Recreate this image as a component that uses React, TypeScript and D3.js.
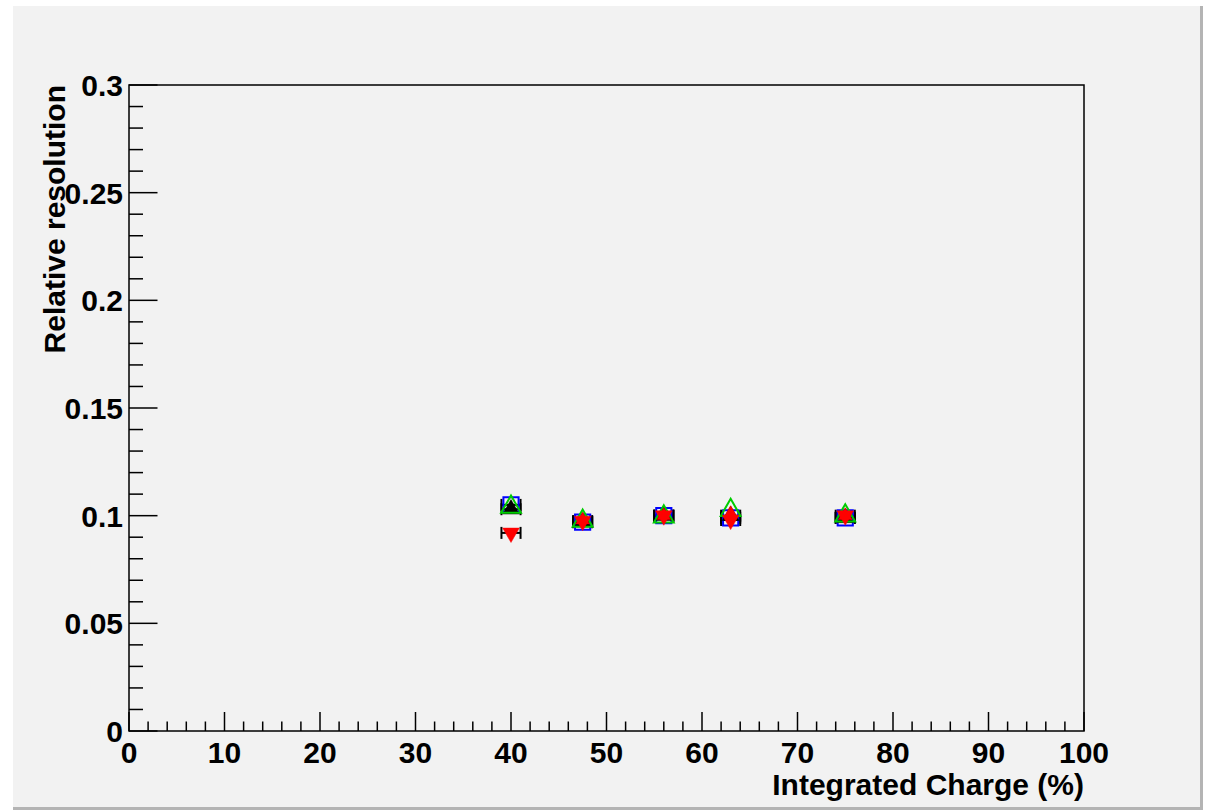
import React, { useEffect, useRef } from 'react';
import * as d3 from 'd3';

// integrated charge points (%)
const charge = [40, 47.5, 56, 63, 75];
const chargeErr = [1, 1, 1, 1, 1];

// relative resolution, one array per series
const blackUp = [0.103, 0.097, 0.1, 0.1, 0.099];
const blueSquare = [0.105, 0.097, 0.1, 0.099, 0.099];
const greenUp = [0.104, 0.0975, 0.0995, 0.1025, 0.1];
const redDown = [0.092, 0.0975, 0.1, 0.098, 0.1];
const redUp = [NaN, 0.098, 0.1, 0.101, 0.1];

const xTicks = [0, 10, 20, 30, 40, 50, 60, 70, 80, 90, 100];
const yTicks = [0, 0.05, 0.1, 0.15, 0.2, 0.25, 0.3];

const W = 1210;
const H = 810;
const frame = { left: 129, top: 85, right: 1084, bottom: 731 };

const App = () => {
  const svgRef = useRef<SVGSVGElement>(null);

  useEffect(() => {
    const svg = d3.select(svgRef.current);
    svg.selectAll('*').remove();

    const x = d3.scaleLinear().domain([0, 100]).range([frame.left, frame.right]);
    const y = d3.scaleLinear().domain([0, 0.3]).range([frame.bottom, frame.top]);

    // canvas
    svg.append('rect').attr('x', 0).attr('y', 0).attr('width', W).attr('height', H).style('fill', '#ffffff');
    svg.append('rect').attr('x', 13).attr('y', 6).attr('width', 1190).attr('height', 804).style('fill', '#b4b4b4');
    svg.append('rect').attr('x', 13).attr('y', 6).attr('width', 1187).attr('height', 801).style('fill', '#f2f2f2');

    // frame
    svg.append('rect')
      .attr('x', frame.left)
      .attr('y', frame.top)
      .attr('width', frame.right - frame.left)
      .attr('height', frame.bottom - frame.top)
      .style('fill', 'none')
      .style('stroke', '#000')
      .style('stroke-width', 1.5);

    const font = 'Liberation Sans, Arial, Helvetica, sans-serif';
    const fs = '30px';

    // x axis ticks
    const xMinor = d3.range(0, 100.001, 2);
    svg.append('g').selectAll('line')
      .data(xMinor)
      .enter()
      .append('line')
      .attr('x1', d => x(d))
      .attr('x2', d => x(d))
      .attr('y1', frame.bottom)
      .attr('y2', d => frame.bottom - (d % 10 === 0 ? 19 : 9.5))
      .style('stroke', '#000')
      .style('stroke-width', 1.5);

    svg.append('g').selectAll('text')
      .data(xTicks)
      .enter()
      .append('text')
      .attr('x', d => x(d))
      .attr('y', 763)
      .attr('text-anchor', 'middle')
      .style('font-family', font)
      .style('font-weight', 'bold')
      .style('font-size', fs)
      .text(d => d3.format('d')(d));

    // y axis ticks
    const yMinor = d3.range(0, 31).map(i => i / 100);
    svg.append('g').selectAll('line')
      .data(yMinor)
      .enter()
      .append('line')
      .attr('x1', frame.left)
      .attr('x2', (d, i) => frame.left + (i % 5 === 0 ? 28.5 : 14))
      .attr('y1', d => y(d))
      .attr('y2', d => y(d))
      .style('stroke', '#000')
      .style('stroke-width', 1.5);

    svg.append('g').selectAll('text')
      .data(yTicks)
      .enter()
      .append('text')
      .attr('x', 123)
      .attr('y', d => y(d) + 11)
      .attr('text-anchor', 'end')
      .style('font-family', font)
      .style('font-weight', 'bold')
      .style('font-size', fs)
      .text(d => (d === 0 ? '0' : String(d)));

    // axis titles
    svg.append('text')
      .attr('x', frame.right)
      .attr('y', 795)
      .attr('text-anchor', 'end')
      .style('font-family', font)
      .style('font-weight', 'bold')
      .style('font-size', fs)
      .text('Integrated Charge (%)');

    svg.append('text')
      .attr('transform', `translate(65,${frame.top}) rotate(-90)`)
      .attr('text-anchor', 'end')
      .style('font-family', font)
      .style('font-weight', 'bold')
      .style('font-size', fs)
      .text('Relative resolution');

    const g = svg.append('g');

    // horizontal error bars
    const drawErr = (vals: number[], color: string) => {
      vals.forEach((v, i) => {
        if (isNaN(v)) return;
        const cy = y(v);
        const x1 = x(charge[i] - chargeErr[i]);
        const x2 = x(charge[i] + chargeErr[i]);
        g.append('line').attr('x1', x1).attr('x2', x2).attr('y1', cy).attr('y2', cy)
          .style('stroke', color).style('stroke-width', 2);
        [x1, x2].forEach(xx => {
          g.append('line').attr('x1', xx).attr('x2', xx).attr('y1', cy - 6).attr('y2', cy + 6)
            .style('stroke', color).style('stroke-width', 2);
        });
      });
    };
    drawErr(blackUp, '#000');
    drawErr(redDown, '#000');
    drawErr(blueSquare, '#000');

    const marker = (vals: number[], type: any, size: number, color: string, filled: boolean, rot = 0) => {
      const sym = d3.symbol().type(type).size(size);
      vals.forEach((v, i) => {
        if (isNaN(v)) return;
        g.append('path')
          .attr('d', sym() as string)
          .attr('transform', `translate(${x(charge[i])},${y(v)}) rotate(${rot})`)
          .style('fill', filled ? color : 'none')
          .style('stroke', color)
          .style('stroke-width', filled ? 0.5 : 2);
      });
    };

    marker(blueSquare, d3.symbolSquare, 230, '#0000ff', false);
    marker(blackUp, d3.symbolTriangle, 120, '#000000', true);
    marker(greenUp, d3.symbolTriangle, 170, '#00cc00', false);
    marker(redUp, d3.symbolTriangle, 80, '#ff0000', true);
    marker(redDown, d3.symbolTriangle, 120, '#ff0000', true, 180);
  }, []);

  return (
    <svg
      ref={svgRef}
      width={W}
      height={H}
      style={{ position: 'absolute', left: 0, top: 0 }}
    ></svg>
  );
};

export default App;
